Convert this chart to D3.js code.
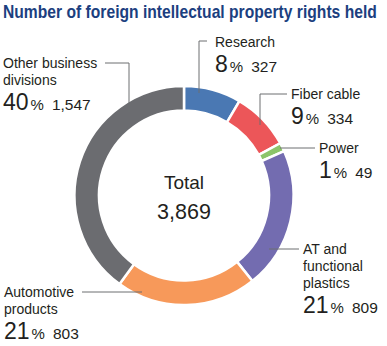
<!DOCTYPE html>
<html><head><meta charset="utf-8">
<script src="https://cdn.jsdelivr.net/npm/d3@7"></script>
<style>
html,body{margin:0;padding:0;background:#fff;}
svg{display:block;}
</style></head>
<body>
<svg id="chart" width="387" height="346"></svg>
<script>
// ---- data ----
const title = "Number of foreign intellectual property rights held";
const categories = ["Research", "Fiber cable", "Power", "AT and functional plastics", "Automotive products", "Other business divisions"];
const counts = [327, 334, 49, 809, 803, 1547];
const percents = [8, 9, 1, 21, 21, 40];
const countLabels = ["327", "334", "49", "809", "803", "1,547"];
const labelLines = [["Research"], ["Fiber cable"], ["Power"], ["AT and", "functional", "plastics"], ["Automotive", "products"], ["Other business", "divisions"]];
const totalLabel = "Total";
const totalValue = "3,869";

// ---- style / layout ----
const colors = ["#4a78b3", "#ec5659", "#8cc56a", "#736cb0", "#f7995a", "#6b6c70"];
const cx = 184, cy = 195.5, rOuter = 109.5, rInner = 85;
const layout = [
  {x: 215, y: 47, leader: [[207, 41], [199, 41], [199, 93]]},
  {x: 291, y: 99, leader: [[287, 94], [260, 94], [260, 125]]},
  {x: 319, y: 153, leader: [[315, 148], [280, 148]]},
  {x: 303, y: 254, leader: [[299, 249], [269, 249]]},
  {x: 4, y: 297, leader: [[82, 292], [142, 292]]},
  {x: 3, y: 68, leader: [[105, 63], [129, 63], [129, 112]]}
];

const svg = d3.select("#chart");
const font = "'Liberation Sans', Arial, Helvetica, sans-serif";

// title (horizontally condensed to fit the reference width)
const tg = svg.append("g");
const tt = tg.append("text")
  .attr("x", 0).attr("y", 0)
  .attr("font-family", "'Liberation Sans Narrow', 'Liberation Sans', Arial, sans-serif")
  .attr("font-weight", "bold")
  .attr("font-size", 18)
  .attr("fill", "#1c3f7f")
  .text(title);
const tw = tt.node().getComputedTextLength();
tg.attr("transform", `translate(3,18) scale(${374 / tw},1)`);

// donut
const pie = d3.pie().sort(null).value(d => d)(counts);
const arc = d3.arc().innerRadius(rInner).outerRadius(rOuter);
const g = svg.append("g").attr("transform", `translate(${cx},${cy})`);
g.selectAll("path").data(pie).join("path")
  .attr("d", arc)
  .attr("fill", (d, i) => colors[i])
  .attr("stroke", "#fff")
  .attr("stroke-width", 2.5);

// leaders
const line = d3.line();
svg.selectAll("path.leader").data(layout).join("path")
  .attr("class", "leader")
  .attr("d", d => line(d.leader))
  .attr("fill", "none")
  .attr("stroke", "#6d6e71")
  .attr("stroke-width", 1);

// labels
categories.forEach((c, i) => {
  const L = layout[i];
  const lines = labelLines[i];
  lines.forEach((ln, j) => {
    svg.append("text").attr("x", L.x).attr("y", L.y + j * 17)
      .attr("font-family", font).attr("font-size", 14).attr("fill", "#231f20")
      .text(ln);
  });
  const by = L.y + (lines.length - 1) * 17 + 25;
  const tx = svg.append("text").attr("x", L.x).attr("y", by)
    .attr("font-family", font).attr("fill", "#231f20");
  tx.append("tspan").attr("font-size", 23).text(percents[i]);
  tx.append("tspan").attr("font-size", 15).attr("dx", 2).text("%");
  tx.append("tspan").attr("font-size", 15.5).attr("dx", 8).text(countLabels[i]);
});

// total
svg.append("text").attr("x", cx).attr("y", 189).attr("text-anchor", "middle")
  .attr("font-family", font).attr("font-size", 19).attr("fill", "#231f20").text(totalLabel);
svg.append("text").attr("x", cx).attr("y", 219).attr("text-anchor", "middle")
  .attr("font-family", font).attr("font-size", 21.5).attr("fill", "#231f20").text(totalValue);
</script>
</body></html>
